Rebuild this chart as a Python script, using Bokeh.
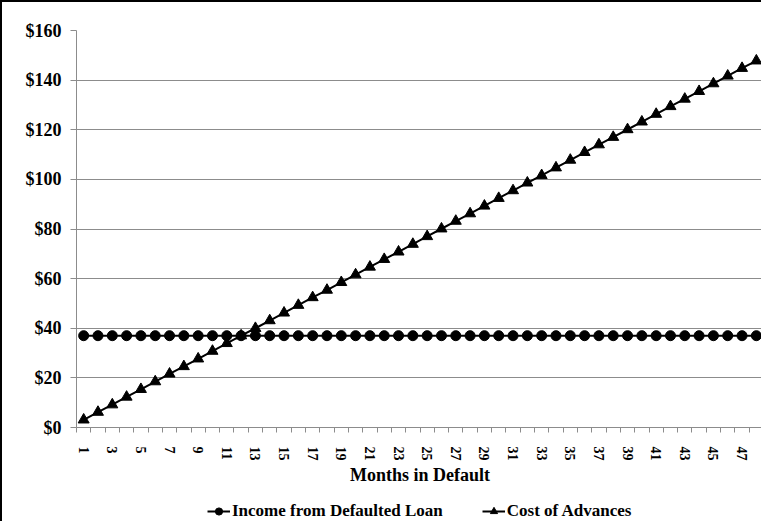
import math
from bokeh.plotting import figure
from bokeh.layouts import column
from bokeh.models import (ColumnDataSource, FixedTicker, Legend, LegendItem,
                          NumeralTickFormatter)
from bokeh.embed import file_html
from bokeh.resources import INLINE

months = list(range(1, 49))
income = [37.0] * 48
cost = [3.1, 6.2, 9.2, 12.3, 15.4, 18.5, 21.6, 24.6, 27.7, 30.8, 33.9, 37.0,
        40.0, 43.1, 46.2, 49.3, 52.4, 55.4, 58.5, 61.6, 64.7, 67.8, 70.8, 73.9,
        77.0, 80.1, 83.2, 86.2, 89.3, 92.4, 95.5, 98.6, 101.6, 104.7, 107.8, 110.9,
        114.0, 117.0, 120.1, 123.2, 126.3, 129.4, 132.4, 135.5, 138.6, 141.7, 144.8, 147.8]
x_labels = [str(m) for m in months if m % 2 == 1]
y_ticks = [0, 20, 40, 60, 80, 100, 120, 140, 160]
series_names = ["Income from Defaulted Loan", "Cost of Advances"]

FONT = "Liberation Serif"
GRAY = "#8c8c8c"

src = ColumnDataSource(dict(x=months, income=income, cost=cost))

p = figure(frame_width=685, frame_height=395, output_backend="svg",
           toolbar_location=None,
           x_range=(0.5, 48.5), y_range=(0, 160),
           min_border_left=74, min_border_right=0, min_border_top=28,
           min_border_bottom=0)
p.styles = {"border-left": "2px solid black", "border-top": "2px solid black"}
p.outline_line_color = None
p.background_fill_color = "white"

# lines & markers
l1 = p.line("x", "income", source=src, line_color="black", line_width=2)
s1 = p.scatter("x", "income", source=src, marker="circle", size=10,
               fill_color="black", line_color="black")
l2 = p.line("x", "cost", source=src, line_color="black", line_width=2)
s2 = p.scatter("x", "cost", source=src, marker="triangle", size=11,
               fill_color="black", line_color="black")

# x axis
xt = FixedTicker(ticks=[m for m in months if m % 2 == 1],
                 minor_ticks=[m - 0.5 for m in months] + [48.5])
p.xaxis.ticker = xt
p.xaxis.major_label_overrides = {m: str(m) for m in months if m % 2 == 1}
p.xaxis.major_label_orientation = -math.pi / 2
p.xaxis.major_tick_line_color = None
p.xaxis.minor_tick_line_color = GRAY
p.xaxis.minor_tick_out = 5
p.xaxis.minor_tick_in = 0
p.xaxis.axis_line_color = GRAY
p.xaxis.major_label_text_font = FONT
p.xaxis.major_label_text_font_style = "bold"
p.xaxis.major_label_text_font_size = "14px"
p.xaxis.major_label_text_color = "black"
p.xaxis.major_label_standoff = 13
p.xaxis.axis_label = "Months in Default"
p.xaxis.axis_label_text_font = FONT
p.xaxis.axis_label_text_font_style = "bold"
p.xaxis.axis_label_text_font_size = "18px"
p.xaxis.axis_label_text_color = "black"
p.xaxis.axis_label_standoff = 1
p.xgrid.grid_line_color = None

# y axis
p.yaxis.ticker = FixedTicker(ticks=y_ticks)
p.yaxis.formatter = NumeralTickFormatter(format="$0")
p.yaxis.axis_line_color = GRAY
p.yaxis.major_tick_line_color = GRAY
p.yaxis.major_tick_out = 6
p.yaxis.major_tick_in = 0
p.yaxis.minor_tick_line_color = None
p.yaxis.major_label_text_font = FONT
p.yaxis.major_label_text_font_style = "bold"
p.yaxis.major_label_text_font_size = "18px"
p.yaxis.major_label_text_color = "black"
p.yaxis.major_label_standoff = 9
p.ygrid.grid_line_color = GRAY
p.ygrid.grid_line_width = 1

# legend strip below the chart (series drawn out of view, only for the legend)
lg = figure(width=759, height=36, output_backend="svg", toolbar_location=None,
            x_range=(-3, -2), y_range=(-3, -2), x_axis_location=None,
            y_axis_location=None, min_border=0)
lg.styles = {"border-left": "2px solid black"}
lg.outline_line_color = None
lg.grid.visible = False
ll1 = lg.line("x", "income", source=src, line_color="black", line_width=2)
ls1 = lg.scatter("x", "income", source=src, marker="circle", size=9,
                 fill_color="black", line_color="black")
ll2 = lg.line("x", "cost", source=src, line_color="black", line_width=2)
ls2 = lg.scatter("x", "cost", source=src, marker="triangle", size=10,
                 fill_color="black", line_color="black")

legend = Legend(items=[LegendItem(label=series_names[0], renderers=[ll1, ls1]),
                       LegendItem(label=series_names[1], renderers=[ll2, ls2])],
                orientation="horizontal", location=(131, 0))
legend.border_line_color = None
legend.background_fill_alpha = 0
legend.label_text_font = FONT
legend.label_text_font_style = "bold"
legend.label_text_font_size = "17px"
legend.label_text_color = "black"
legend.label_height = 18
legend.glyph_height = 18
legend.glyph_width = 23
legend.label_standoff = 2
legend.spacing = 39
legend.margin = 0
legend.padding = 2
lg.add_layout(legend)

layout = column(p, lg, spacing=0)
open("out.html", "w").write(file_html(layout, INLINE))
